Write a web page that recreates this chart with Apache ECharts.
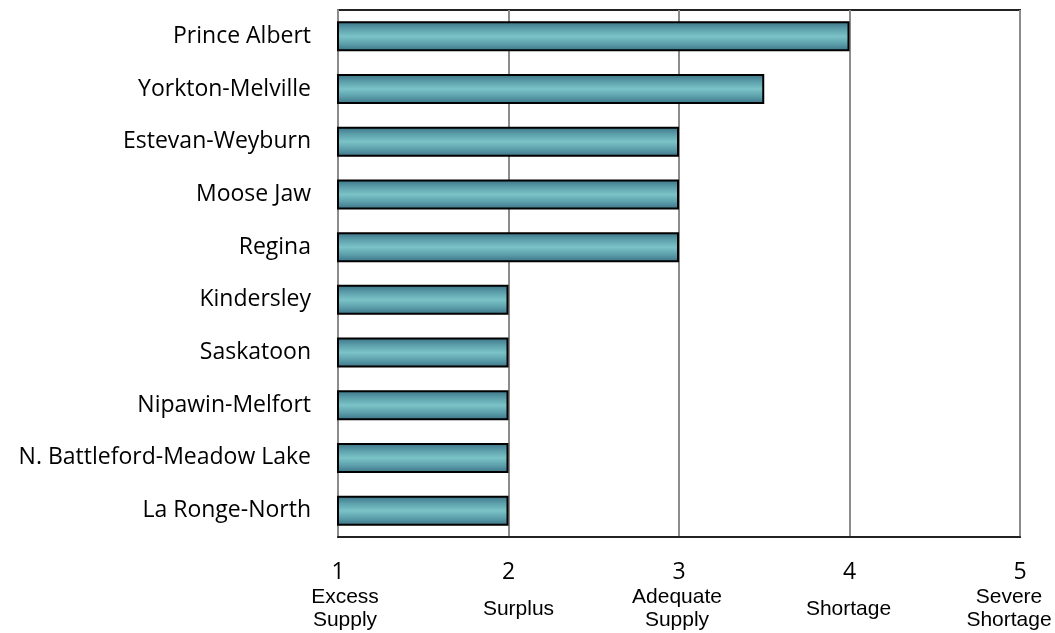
<!DOCTYPE html>
<html>
<head>
<meta charset="utf-8">
<script src="https://cdn.jsdelivr.net/npm/echarts@6/dist/echarts.min.js"></script>
<style>html,body{margin:0;padding:0;background:#fff;}#c{width:1055px;height:633px;}</style>
</head>
<body>
<div id="c"></div>
<script>
const categories = ["Prince Albert","Yorkton-Melville","Estevan-Weyburn","Moose Jaw","Regina","Kindersley","Saskatoon","Nipawin-Melfort","N. Battleford-Meadow Lake","La Ronge-North"];
const values = [4, 3.5, 3, 3, 3, 2, 2, 2, 2, 2];
const tickNumbers = [1, 2, 3, 4, 5];
const tickDescriptions = ["Excess\nSupply", "Surplus", "Adequate\nSupply", "Shortage", "Severe\nShortage"];

const shifts = {1: 7, 2: 10, 3: -2, 4: -1, 5: -11};
const rich = { n: { fontFamily: "Open Sans", fontSize: 23, color: "#000", lineHeight: 28 } };
tickNumbers.forEach(function (t) {
  const s = shifts[t];
  const pad = s >= 0 ? [0, 0, 0, 2 * s] : [0, -2 * s, 0, 0];
  rich['d' + t] = { fontFamily: "Liberation Sans", fontSize: 21, color: "#000", lineHeight: 23, padding: pad };
  rich['s' + t] = { fontFamily: "Liberation Sans", fontSize: 21, color: "#000", lineHeight: 46, padding: pad };
});

const chart = echarts.init(document.getElementById('c'), null, { renderer: 'canvas' });
chart.setOption({
  animation: false,
  backgroundColor: '#fff',
  grid: { left: 338, right: 35, top: 10, bottom: 96, show: true, borderColor: '#222', borderWidth: 2,
          containLabel: false, outerBoundsMode: 'none' },
  xAxis: {
    type: 'value', min: 1, max: 5, interval: 1,
    axisLine: { show: true, lineStyle: { color: '#222', width: 2 } },
    axisTick: { show: false },
    splitLine: { show: true, lineStyle: { color: '#8c8c8c', width: 2 } },
    axisLabel: {
      margin: 21,
      hideOverlap: false,
      formatter: function (v) {
        const i = tickNumbers.indexOf(v);
        if (i < 0) return '';
        const d = tickDescriptions[i];
        if (d.indexOf('\n') >= 0) {
          const parts = d.split('\n');
          return '{n|' + v + '}\n{d' + v + '|' + parts[0] + '}\n{d' + v + '|' + parts[1] + '}';
        }
        return '{n|' + v + '}\n{s' + v + '|' + d + '}';
      },
      rich: rich
    }
  },
  yAxis: {
    type: 'category', data: categories, inverse: true,
    axisLine: { show: true, lineStyle: { color: '#8c8c8c', width: 2 } },
    axisTick: { show: false },
    axisLabel: { fontFamily: "Open Sans", fontSize: 23, color: '#000', margin: 27 }
  },
  series: [{
    type: 'bar', data: values, barWidth: 30,
    itemStyle: {
      borderColor: '#000', borderWidth: 2,
      color: new echarts.graphic.LinearGradient(0, 0, 0, 1, [
        { offset: 0, color: '#3a7084' },
        { offset: 0.25, color: '#5c9fab' },
        { offset: 0.5, color: '#7bc3c7' },
        { offset: 0.75, color: '#5c9fab' },
        { offset: 1, color: '#3a7084' }
      ])
    }
  }]
});
</script>
</body>
</html>
